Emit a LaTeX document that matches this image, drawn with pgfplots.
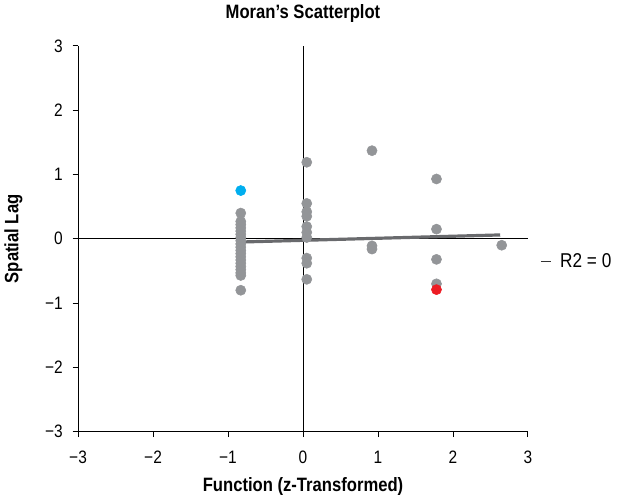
\documentclass[border=0pt]{standalone}
\usepackage{fontspec}
\setmainfont{Liberation Sans}[FakeStretch=0.86]
\usepackage{pgfplots}
\pgfplotsset{compat=1.18}
\definecolor{ptgray}{RGB}{147,149,152}
\definecolor{ptblue}{RGB}{0,174,239}
\definecolor{ptred}{RGB}{237,28,36}
\definecolor{lngray}{RGB}{105,106,109}
\begin{document}
\begin{tikzpicture}
\begin{axis}[
  width=337.5pt, height=289.5pt, scale only axis,
  xmin=-3, xmax=3, ymin=-3, ymax=3,
  axis lines*=left,
  axis line style={black, line width=0.7pt},
  tick align=outside, major tick length=4pt,
  tick style={black, line width=0.7pt},
  xtick={-3,...,3}, ytick={-3,...,3},
  xticklabels={−3,−2,−1,0,1,2,3},
  yticklabels={−3,−2,−1,0,1,2,3},
  tick label style={font=\fontsize{13.5}{14}\selectfont},
  xticklabel style={yshift=-7pt},
  yticklabel style={xshift=-4pt},
  title={\fontsize{14.5}{15}\selectfont\bfseries Moran’s Scatterplot},
  title style={yshift=8pt},
  xlabel={\fontsize{14.5}{15}\selectfont\bfseries Function (z-Transformed)},
  xlabel style={yshift=-3pt},
  ylabel={\fontsize{14.5}{15}\selectfont\bfseries Spatial Lag},
  ylabel style={yshift=10pt},
  legend style={at={(1.0,0.44)}, anchor=west, xshift=6pt, draw=none, fill=none,
    font=\fontsize{15}{15}\selectfont},
  legend image code/.code={\draw[black!80, line width=0.8pt] (0cm,0cm) -- (0.26cm,0cm); \path (0.40cm,0cm);},
  clip=false,
]
\draw[black, line width=0.7pt] (axis cs:0,-3) -- (axis cs:0,3);
\draw[black, line width=0.7pt] (axis cs:-3,0) -- (axis cs:3,0);
\addplot[only marks, mark=*, mark size=3.8pt, color=ptgray, forget plot] coordinates {
 (-0.83,0.40) (-0.83,0.27) (-0.83,0.22) (-0.83,0.17) (-0.83,0.12) (-0.83,0.07)
 (-0.83,0.02) (-0.83,-0.03) (-0.83,-0.08) (-0.83,-0.13) (-0.83,-0.18) (-0.83,-0.23)
 (-0.83,-0.28) (-0.83,-0.33) (-0.83,-0.38) (-0.83,-0.43) (-0.83,-0.48) (-0.83,-0.53)
 (-0.83,-0.57) (-0.83,-0.80)
 (0.05,1.19) (0.05,0.55) (0.05,0.42) (0.05,0.35) (0.05,0.19) (0.05,0.10)
 (0.05,0.02) (0.05,-0.30) (0.05,-0.38) (0.05,-0.63)
 (0.92,1.37) (0.92,-0.11) (0.92,-0.16)
 (1.78,0.93) (1.78,0.15) (1.78,-0.32) (1.78,-0.70)
 (2.65,-0.10)
};
\addplot[only marks, mark=*, mark size=3.8pt, color=ptblue, forget plot] coordinates {(-0.83,0.75)};
\addplot[only marks, mark=*, mark size=3.8pt, color=ptred, forget plot] coordinates {(1.78,-0.79)};
\addplot[lngray, line width=2.4pt] coordinates {(-0.83,-0.05) (2.63,0.06)};
\addlegendentry{R2 = 0}
\end{axis}
\end{tikzpicture}
\end{document}
